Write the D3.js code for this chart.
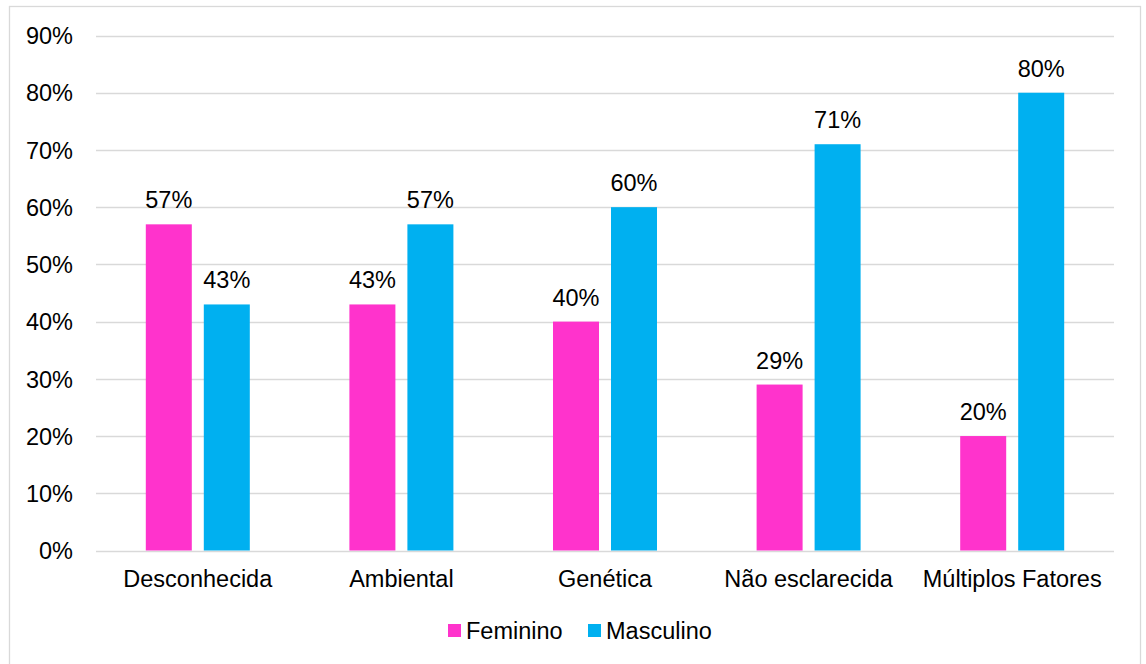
<!DOCTYPE html>
<html>
<head>
<meta charset="utf-8">
<script src="https://cdn.jsdelivr.net/npm/d3@7"></script>
<style>
  html, body { margin: 0; padding: 0; background: #fff; }
  svg text { font-family: "Liberation Sans", Arial, sans-serif; fill: #000; }
</style>
</head>
<body>
<svg id="chart" width="1146" height="664"></svg>
<script>
// Causes by sex (share of cases)
const categories = ["Desconhecida", "Ambiental", "Genética", "Não esclarecida", "Múltiplos Fatores"];
const seriesNames = ["Feminino", "Masculino"];
const feminino = [57, 43, 40, 29, 20];
const masculino = [43, 57, 60, 71, 80];
const yTicks = [0, 10, 20, 30, 40, 50, 60, 70, 80, 90];
const colors = ["#FF33CC", "#00B0F0"];

const FS = 23.5;
const svg = d3.select("#chart");

// outer frame
svg.append("rect")
  .attr("x", 9.5).attr("y", 6.5)
  .attr("width", 1131).attr("height", 660)
  .attr("fill", "#fff").attr("stroke", "#d9d9d9").attr("stroke-width", 1.3);

const plot = { left: 96, right: 1114, top: 35.5, bottom: 550.5 };

const x = d3.scaleBand().domain(categories).range([plot.left, plot.right]).paddingInner(0).paddingOuter(0);
const y = d3.scaleLinear().domain([0, 90]).range([plot.bottom, plot.top]);

const barW = 46, gap = 12;
const xs = d3.scaleBand().domain(seriesNames).range([0, barW * 2 + gap]).paddingInner(gap / (barW + gap)).paddingOuter(0);

// gridlines
svg.append("g")
  .selectAll("line").data(yTicks).join("line")
  .attr("x1", plot.left).attr("x2", plot.right)
  .attr("y1", d => Math.round(y(d)) + 0.5).attr("y2", d => Math.round(y(d)) + 0.5)
  .attr("stroke", "#d9d9d9").attr("stroke-width", 1.5);

// y axis labels
const yAxis = d3.axisLeft(y).tickValues(yTicks).tickFormat(d => d + "%").tickSize(0).tickPadding(0);
const yg = svg.append("g").attr("transform", `translate(73,0)`).call(yAxis);
yg.attr("font-size", null).attr("font-family", null);
yg.select(".domain").remove();
yg.selectAll("text").style("font-size", FS + "px").attr("dy", "0.35em")
  .style("font-family", "'Liberation Sans', Arial, sans-serif").attr("fill", "#000");

// x axis labels
const xAxis = d3.axisBottom(x).tickSize(0).tickPadding(0);
const xg = svg.append("g").attr("transform", `translate(0,${plot.bottom})`).call(xAxis);
xg.attr("font-size", null).attr("font-family", null);
xg.select(".domain").remove();
xg.selectAll("text").style("font-size", FS + "px").attr("dy", "0").attr("y", 36)
  .style("font-family", "'Liberation Sans', Arial, sans-serif").attr("fill", "#000");

// bars
const rows = categories.map((c, i) => ({ cat: c, vals: [feminino[i], masculino[i]] }));
const groups = svg.append("g").selectAll("g").data(rows).join("g")
  .attr("transform", d => `translate(${x(d.cat) + x.bandwidth() / 2 - (barW * 2 + gap) / 2},0)`);

groups.selectAll("rect")
  .data(d => d.vals.map((v, j) => ({ name: seriesNames[j], v, j })))
  .join("rect")
  .attr("x", d => xs(d.name)).attr("width", xs.bandwidth())
  .attr("y", d => y(d.v)).attr("height", d => y(0) - y(d.v))
  .attr("fill", d => colors[d.j]);

groups.selectAll("text.val")
  .data(d => d.vals.map((v, j) => ({ name: seriesNames[j], v, j })))
  .join("text").attr("class", "val")
  .attr("x", d => xs(d.name) + xs.bandwidth() / 2)
  .attr("y", d => y(d.v) - 16)
  .attr("text-anchor", "middle").style("font-size", FS + "px")
  .text(d => d.v + "%");

// legend
const legend = svg.append("g");
const legendItems = [{ name: seriesNames[0], x: 448, c: colors[0] }, { name: seriesNames[1], x: 588, c: colors[1] }];
legendItems.forEach(it => {
  legend.append("rect").attr("x", it.x).attr("y", 624).attr("width", 13).attr("height", 13).attr("fill", it.c);
  legend.append("text").attr("x", it.x + 18).attr("y", 639).style("font-size", FS + "px").text(it.name);
});
</script>
</body>
</html>
